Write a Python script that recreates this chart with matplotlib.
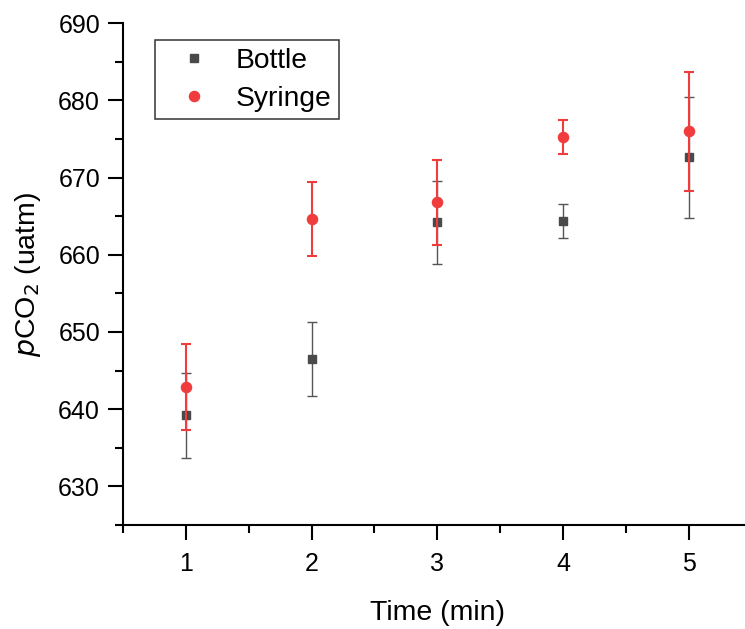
import matplotlib
matplotlib.use('Agg')
import matplotlib.pyplot as plt
from matplotlib.ticker import MultipleLocator
from matplotlib.lines import Line2D

plt.rcParams['font.family'] = ['Liberation Sans', 'DejaVu Sans']

time_min = [1, 2, 3, 4, 5]
bottle = [639.2, 646.5, 664.2, 664.4, 672.6]
bottle_err = [5.5, 4.8, 5.4, 2.2, 7.8]
syringe = [642.9, 664.6, 666.8, 675.3, 676.0]
syringe_err = [5.6, 4.8, 5.5, 2.2, 7.7]

gray = '#4a4a4a'
red = '#f03c3c'

fig = plt.figure(figsize=(7.45, 6.29), dpi=100)
ax = fig.add_axes([0.165, 0.1653, 0.844, 0.798])

ax.errorbar(time_min, bottle, yerr=bottle_err, fmt='s', color=gray,
            ecolor='#555555', markersize=6, elinewidth=1.0, capsize=3.5,
            capthick=1.0, zorder=3)
ax.errorbar(time_min, syringe, yerr=syringe_err, fmt='o', color=red,
            markersize=7.3, elinewidth=1.5, capsize=3.5, capthick=1.5,
            zorder=4)

ax.set_xlim(0.5, 5.5)
ax.set_ylim(625, 690)
ax.xaxis.set_major_locator(MultipleLocator(1))
ax.xaxis.set_minor_locator(MultipleLocator(0.5))
ax.yaxis.set_major_locator(MultipleLocator(10))
ax.yaxis.set_minor_locator(MultipleLocator(5))

for s in ['top', 'right']:
    ax.spines[s].set_visible(False)
for s in ['left', 'bottom']:
    ax.spines[s].set_linewidth(1.5)

ax.tick_params(which='major', direction='out', length=10.5, width=1.5, labelsize=18)
ax.tick_params(axis='x', which='major', pad=9)
ax.tick_params(axis='y', which='major', pad=6)
ax.tick_params(which='minor', direction='out', length=5.5, width=1.5)

ax.set_xlabel('Time (min)', fontsize=20.5, labelpad=17)
ax.set_ylabel('$\\it{p}$CO$_2$ (uatm)', fontsize=20.5, labelpad=11)

handles = [Line2D([], [], marker='s', linestyle='', color=gray, markersize=6),
           Line2D([], [], marker='o', linestyle='', color=red, markersize=7.3)]
leg = ax.legend(handles, ['Bottle', 'Syringe'], loc='upper left',
                bbox_to_anchor=(0.051, 0.966), borderaxespad=0, fontsize=20.3,
                frameon=True, fancybox=False, edgecolor='black',
                handletextpad=0.38, borderpad=0.27, labelspacing=0.42,
                handlelength=2.2)
leg.get_frame().set_linewidth(1.1)

fig.savefig('out.png', dpi=100)
